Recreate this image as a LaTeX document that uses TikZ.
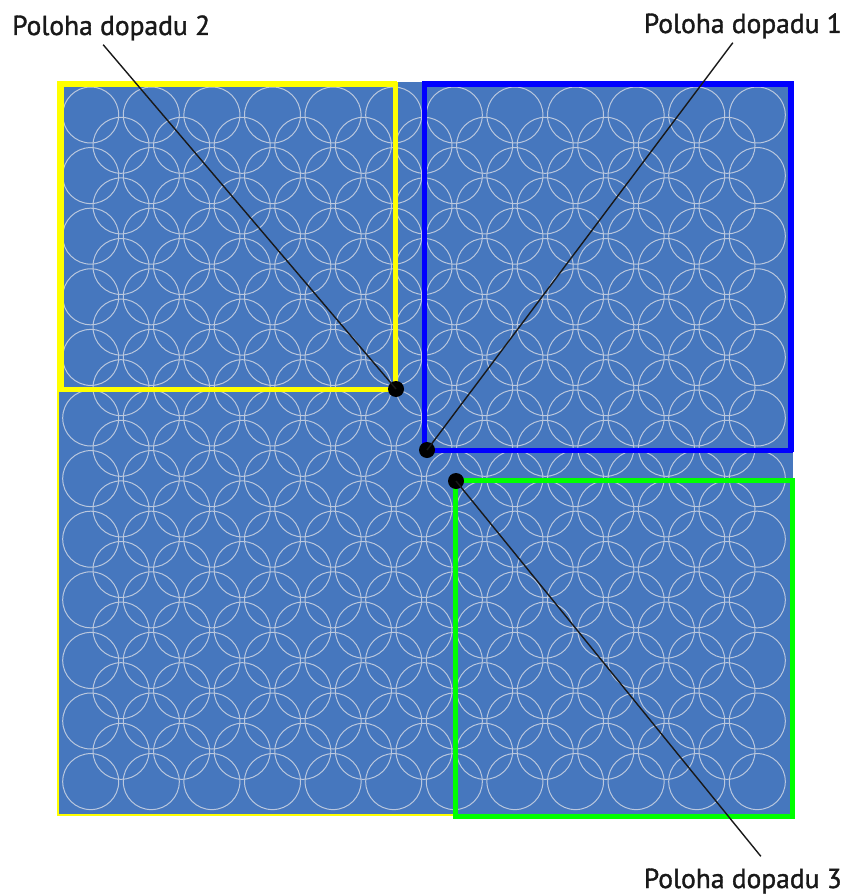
\documentclass[tikz,border=0pt]{standalone}
\usepackage{fontspec}
\setmainfont{PT Sans}
\newfontfamily\popisfont[FakeBold=1.3]{PT Sans}
\usetikzlibrary{positioning}
\definecolor{plochablue}{RGB}{70,119,190}
\definecolor{kruhgray}{RGB}{185,199,222}
\definecolor{zluta}{RGB}{255,255,0}
\definecolor{modra}{RGB}{0,0,255}
\definecolor{zelena}{RGB}{0,255,0}
\tikzset{
  popis/.style={
    font=\popisfont\fontsize{27.5}{30}\selectfont,
    inner sep=0pt,
    text=black!90
  },
  kruh/.style={
    draw=kruhgray,
    line width=1pt
  },
  oblast/.style={
    line width=5pt
  },
  okraj/.style={
    line width=2pt
  },
  bod/.style={
    circle,
    fill=black,
    minimum size=16pt,
    inner sep=0pt
  },
  spoj/.style={
    line width=1.4pt,
    black!90
  }
}
\begin{document}
\begin{tikzpicture}[x=1pt,y=-1pt]
\useasboundingbox (0,0) rectangle (851,896);
\fill[plochablue] (58,82) rectangle (793,815);
% kruhy
\foreach \i in {0,...,11}
  \foreach \j in {0,...,11}
    \draw[kruh] (90.7+60.6*\i,115+60.6*\j) circle[radius=28pt];
\foreach \i in {0,...,10}
  \foreach \j in {0,...,10}
    \draw[kruh] (121+60.6*\i,145.3+60.6*\j) circle[radius=28pt];
% oblasti
\draw[zluta,okraj] (397,82) -- (58,82) -- (58,815) -- (455,815);
\draw[modra,okraj] (422,82) -- (793,82) -- (793,452);
\draw[zluta,oblast] (61,85) rectangle (395,389);
\draw[modra,oblast] (424.5,85) rectangle (790.5,450.5);
\draw[zelena,oblast] (455.5,480.5) rectangle (792.5,816.5);
% body dopadu
\node[bod] (dopad2) at (396,389) {};
\node[bod] (dopad1) at (427,450) {};
\node[bod] (dopad3) at (456,481) {};
\node[popis,anchor=base west] (popis2) at (12,35) {Poloha dopadu 2};
\node[popis,anchor=base east] (popis1) at (842,33) {Poloha dopadu 1};
\node[popis,anchor=base east] (popis3) at (842,888) {Poloha dopadu 3};
\draw[spoj] ([xshift=-8pt,yshift=-4pt]popis2.south) -- (dopad2.center);
\draw[spoj] ([xshift=-10pt,yshift=-4pt]popis1.south) -- (dopad1.center);
\draw[spoj] ([xshift=18pt,yshift=12pt]popis3.north) -- (dopad3.center);
\end{tikzpicture}
\end{document}
